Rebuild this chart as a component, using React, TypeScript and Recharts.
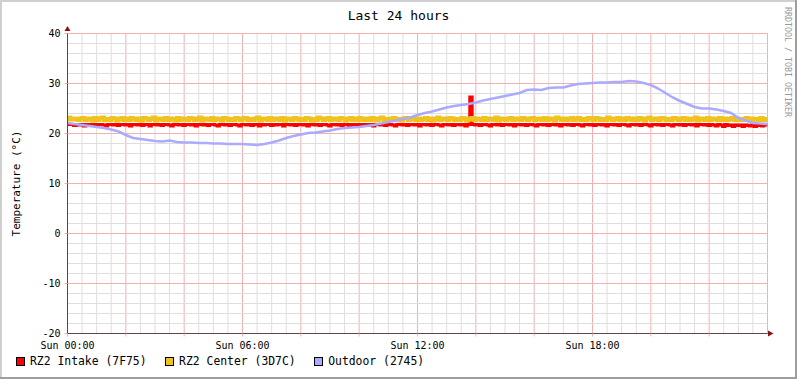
import { ComposedChart, Line, XAxis, YAxis, ReferenceLine } from "recharts";

const mono = "'DejaVu Sans Mono', monospace";

const title = "Last 24 hours";
const yLabel = "Temperature (°C)";
const watermark = "RRDTOOL / TOBI OETIKER";

// hours after Sun 00:00
const xTicks = [0, 2, 4, 6, 8, 10, 12, 14, 16, 18, 20, 22];
const xLabels: Record<number, string> = { 0: "Sun 00:00", 6: "Sun 06:00", 12: "Sun 12:00", 18: "Sun 18:00" };
const yTicks = [-20, -10, 0, 10, 20, 30, 40];
const yMinor = Array.from({ length: 31 }, (_, i) => -20 + i * 2);
const xMinor = Array.from({ length: 49 }, (_, i) => i * 0.5);

// 5 minute samples
const intake = [
  21.9, 21.8, 21.8, 21.6, 21.8, 21.7, 21.8, 21.5, 21.8, 21.8, 21.7, 21.8,
  21.6, 21.8, 21.8, 21.7, 21.5, 21.8, 21.8, 21.7, 21.8, 21.6, 21.8, 21.8,
  21.7, 21.8, 21.5, 21.8, 21.8, 21.7, 21.8, 21.6, 21.8, 21.8, 21.5, 21.8,
  21.8, 21.7, 21.8, 21.6, 21.8, 21.8, 21.7, 21.5, 21.8, 21.8, 21.7, 21.8,
  21.6, 21.8, 21.8, 21.7, 21.8, 21.5, 21.8, 21.8, 21.7, 21.8, 21.6, 21.8,
  21.8, 21.7, 21.5, 21.8, 21.8, 21.7, 21.8, 21.6, 21.8, 21.8, 21.7, 21.5,
  21.8, 21.8, 21.7, 21.8, 21.6, 21.8, 21.8, 21.5, 21.8, 21.7, 21.8, 21.8,
  21.6, 21.8, 21.7, 21.8, 21.8, 21.5, 21.8, 21.8, 21.7, 21.8, 21.6, 21.8,
  21.8, 21.7, 21.8, 21.5, 21.8, 21.8, 21.7, 21.8, 21.6, 21.8, 21.8, 21.7,
  21.5, 21.8, 21.8, 21.7, 21.8, 21.6, 21.8, 21.8, 21.5, 21.8, 21.7, 21.8,
  21.8, 21.6, 21.8, 21.8, 21.7, 21.8, 21.5, 21.8, 21.8, 21.7, 21.8, 21.6,
  21.8, 21.8, 21.7, 21.5, 21.8, 21.8, 21.7, 21.8, 21.6, 21.8, 21.8, 21.7,
  21.8, 21.5, 21.8, 21.8, 21.7, 21.8, 21.6, 21.8, 21.8, 21.7, 21.5, 21.8,
  21.8, 21.7, 21.8, 21.6, 21.8, 21.8, 21.7, 21.8, 21.5, 21.8, 27.3, 21.8,
  21.7, 21.8, 21.6, 21.8, 21.8, 21.7, 21.5, 21.8, 21.8, 21.7, 21.8, 21.6,
  21.8, 21.8, 21.7, 21.8, 21.5, 21.8, 21.8, 21.7, 21.8, 21.6, 21.8, 21.8,
  21.7, 21.5, 21.8, 21.8, 21.7, 21.8, 21.6, 21.8, 21.8, 21.7, 21.8, 21.5,
  21.8, 21.8, 21.7, 21.8, 21.6, 21.8, 21.8, 21.7, 21.5, 21.8, 21.8, 21.7,
  21.8, 21.6, 21.8, 21.8, 21.7, 21.8, 21.5, 21.8, 21.8, 21.7, 21.8, 21.6,
  21.8, 21.8, 21.7, 21.5, 21.8, 21.8, 21.7, 21.8, 21.6, 21.8, 21.8, 21.7,
  21.5, 21.8, 21.8, 21.7, 21.8, 21.6, 21.8, 21.8, 21.7, 21.5, 21.8, 21.8,
  21.7, 21.8, 21.6, 21.8, 21.8, 21.7, 21.8, 21.5, 21.8, 21.8, 21.7, 21.8,
  21.6, 21.8, 21.7, 21.5, 21.8, 21.7, 21.4, 21.8, 21.6, 21.7, 21.4, 21.7,
  21.6, 21.7, 21.4, 21.7, 21.6, 21.5, 21.7, 21.4, 21.6, 21.7, 21.5, 21.7,
  21.7,
];

const center = [
  23.2, 22.8, 23.0, 22.9, 22.7, 23.0, 23.1, 22.7, 22.9, 23.0, 22.6, 23.1,
  22.7, 23.0, 23.2, 22.7, 22.9, 22.7, 23.1, 23.0, 22.6, 22.9, 23.1, 22.7,
  23.0, 22.7, 23.1, 22.9, 22.7, 23.0, 22.6, 23.1, 23.0, 22.7, 22.9, 23.2,
  22.6, 23.0, 22.9, 22.7, 23.1, 22.7, 23.0, 22.9, 22.6, 23.1, 22.7, 23.0,
  22.9, 22.7, 23.1, 23.0, 22.7, 22.9, 23.2, 22.6, 23.0, 22.9, 22.7, 23.1,
  22.7, 23.0, 22.9, 22.6, 23.1, 23.0, 22.7, 22.9, 22.7, 23.1, 23.0, 22.7,
  23.0, 23.1, 22.7, 22.9, 22.7, 23.0, 23.2, 22.6, 22.9, 23.0, 22.7, 23.1,
  22.7, 22.9, 23.0, 22.7, 23.1, 22.6, 23.0, 22.9, 22.7, 23.1, 23.0, 22.7,
  22.9, 22.7, 23.1, 23.0, 22.6, 22.9, 22.7, 23.2, 23.0, 22.7, 22.9, 23.1,
  22.7, 23.0, 22.9, 22.7, 23.1, 23.0, 22.6, 22.9, 23.1, 22.7, 23.0, 22.7,
  23.1, 22.9, 22.7, 23.0, 22.7, 23.1, 22.9, 22.6, 23.0, 23.2, 22.7, 22.9,
  22.7, 23.0, 23.1, 22.7, 22.9, 22.6, 23.0, 23.1, 22.7, 22.9, 23.0, 22.7,
  23.0, 22.7, 22.9, 23.1, 22.7, 23.0, 22.6, 22.9, 23.2, 22.7, 23.0, 22.9,
  22.7, 23.1, 23.0, 22.7, 22.9, 22.7, 23.1, 23.0, 22.6, 22.9, 23.1, 22.7,
  23.0, 22.9, 22.7, 23.1, 22.7, 23.0, 22.9, 22.7, 23.2, 22.6, 23.0, 22.9,
  22.7, 23.0, 23.1, 22.7, 22.9, 23.0, 22.7, 23.1, 22.9, 22.7, 23.0, 23.1,
  22.7, 22.9, 23.0, 22.7, 23.1, 22.7, 23.0, 22.9, 22.6, 23.2, 23.0, 22.7,
  23.0, 22.7, 22.9, 23.1, 22.7, 23.0, 23.1, 22.7, 22.9, 22.7, 23.1, 23.0,
  22.7, 23.1, 23.0, 22.7, 22.9, 22.7, 23.2, 23.0, 22.7, 22.9, 23.1, 22.7,
  23.0, 22.7, 23.1, 22.9, 22.7, 23.0, 22.7, 23.1, 22.9, 22.6, 23.0, 23.2,
  22.7, 22.9, 23.0, 22.7, 23.1, 23.0, 22.7, 22.9, 22.7, 23.1, 23.0, 22.7,
  22.9, 23.1, 22.7, 23.0, 22.7, 22.9, 23.2, 22.6, 23.0, 22.9, 22.7, 23.1,
  22.7, 23.0, 22.9, 22.7, 23.1, 22.7, 23.0, 22.7, 22.9, 23.1, 22.7, 23.0,
  22.7, 22.9, 22.7, 23.1, 22.7, 23.0, 22.7, 22.9, 22.7, 23.1, 22.7, 22.9,
  22.7,
];

// 15 minute samples
const outdoor = [
  22.1, 21.9, 21.7, 21.5,
  21.3, 21.1, 20.8, 20.4,
  19.7, 19.1, 18.9, 18.7,
  18.5, 18.4, 18.6, 18.3,
  18.2, 18.2, 18.1, 18.1,
  18.0, 18.0, 17.9, 17.9,
  17.9, 17.8, 17.7, 17.9,
  18.2, 18.6, 19.1, 19.5,
  19.8, 20.1, 20.2, 20.4,
  20.6, 20.9, 21.1, 21.2,
  21.3, 21.5, 21.7, 22.0,
  22.3, 22.6, 22.9, 23.2,
  23.7, 24.1, 24.4, 24.8,
  25.2, 25.5, 25.7, 25.9,
  26.2, 26.6, 26.9, 27.2,
  27.5, 27.8, 28.1, 28.7,
  28.8, 28.7, 29.1, 29.2,
  29.2, 29.6, 29.9, 30.0,
  30.1, 30.2, 30.2, 30.3,
  30.3, 30.5, 30.4, 30.1,
  29.7, 29.0, 28.1, 27.2,
  26.5, 25.9, 25.3, 25.0,
  25.0, 24.8, 24.5, 24.1,
  23.1, 22.6, 22.1, 22.0,
  21.9,
];

const series = [
  { name: "RZ2 Intake (7F75)", color: "#FF0000", values: intake, perHour: 12, curve: "step" as const, width: 3 },
  { name: "RZ2 Center (3D7C)", color: "#EFC21E", values: center, perHour: 12, curve: "stepAfter" as const, width: 4 },
  { name: "Outdoor (2745)", color: "#AAAAFF", values: outdoor, perHour: 4, curve: "linear" as const, width: 2.5 },
];

const minorColor = "#DEDEDE";
const majorColor = "#F3B0B0";
const axisColor = "#5a4848";
const arrowColor = "#8a1010";

export default function App() {
  return (
    <div style={{ position: "absolute", left: 0, top: 0, width: 797, height: 379, background: "#fff", fontFamily: mono }}>
      <div style={{ position: "absolute", left: 0, top: 8, width: 797, textAlign: "center", fontSize: 13, lineHeight: "16px" }}>
        {title}
      </div>
      <div
        style={{
          position: "absolute",
          left: 782.5,
          top: 7,
          writingMode: "vertical-rl",
          fontSize: 8.3,
          lineHeight: "10px",
          color: "#9a9a9a",
        }}
      >
        {watermark}
      </div>
      <ComposedChart width={797} height={379} margin={{ top: 33.5, right: 29.5, bottom: 15.5, left: 0 }}>
        {xMinor.map((v) => (
          <ReferenceLine key={"x" + v} x={v} stroke={v % 2 === 0 ? majorColor : minorColor} strokeWidth={1} />
        ))}
        {yMinor.map((v) => (
          <ReferenceLine key={"y" + v} y={v} stroke={v % 10 === 0 ? majorColor : minorColor} strokeWidth={1} />
        ))}
        <XAxis
          type="number"
          dataKey="t"
          domain={[0, 24]}
          ticks={xTicks}
          allowDataOverflow
          tickFormatter={(v: number) => xLabels[v] ?? ""}
          tick={{ fontFamily: mono, fontSize: 10, fill: "#000" }}
          tickSize={3}
          tickMargin={5}
          tickLine={{ stroke: majorColor }}
          axisLine={{ stroke: axisColor }}
        />
        <YAxis
          type="number"
          domain={[-20, 40]}
          ticks={yTicks}
          allowDataOverflow
          width={67.5}
          tick={{ fontFamily: mono, fontSize: 10, fill: "#000" }}
          tickSize={3}
          tickMargin={4}
          tickLine={{ stroke: majorColor }}
          axisLine={{ stroke: axisColor }}
          label={{
            value: yLabel,
            angle: -90,
            position: "insideLeft",
            offset: 16,
            style: { textAnchor: "middle", fontFamily: mono, fontSize: 11, fill: "#000" },
          }}
        />
        {series.map((s) => (
          <Line
            key={s.name}
            data={s.values.map((v, i) => ({ t: i / s.perHour, v }))}
            dataKey="v"
            name={s.name}
            type={s.curve}
            stroke={s.color}
            strokeWidth={s.width}
            dot={false}
            isAnimationActive={false}
          />
        ))}
      </ComposedChart>
      <svg width={797} height={379} style={{ position: "absolute", left: 0, top: 0, pointerEvents: "none" }}>
        <polygon points="64.5,31 70.5,31 67.5,26" fill={arrowColor} />
        <polygon points="768,330.5 768,336.5 773.5,333.5" fill={arrowColor} />
        <rect x={0} y={0} width={797} height={2} fill="#cfcfcf" />
        <rect x={0} y={0} width={2} height={379} fill="#cfcfcf" />
        <rect x={0} y={377} width={797} height={2} fill="#9e9e9e" />
        <rect x={795} y={0} width={2} height={379} fill="#9e9e9e" />
      </svg>
      <div style={{ position: "absolute", left: 16, top: 355, display: "flex", gap: 18.5, fontSize: 11.4, lineHeight: "13px" }}>
        {series.map((s) => (
          <div key={s.name} style={{ display: "flex", alignItems: "center" }}>
            <span style={{ width: 7, height: 7, border: "1px solid #000", background: s.color, display: "inline-block" }} />
            <span style={{ marginLeft: 5, whiteSpace: "pre" }}>{s.name}</span>
          </div>
        ))}
      </div>
    </div>
  );
}
